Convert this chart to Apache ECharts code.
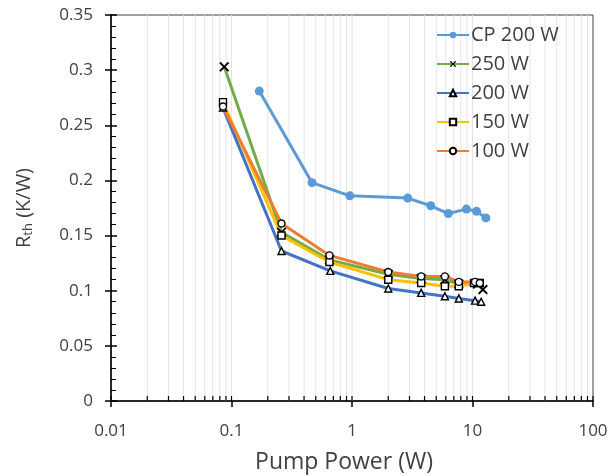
<!DOCTYPE html>
<html><head><meta charset="utf-8">
<script src="https://cdn.jsdelivr.net/npm/echarts@6/dist/echarts.min.js"></script>
<style>html,body{margin:0;padding:0;background:#fff}#c{width:609px;height:476px}</style>
</head><body><div id="c"></div>
<script>
const seriesNames = ['CP 200 W', '250 W', '200 W', '150 W', '100 W'];
const cp200 = [[0.17,0.281],[0.466,0.198],[0.96,0.186],[2.9,0.184],[4.5,0.177],[6.3,0.170],[8.9,0.174],[10.8,0.172],[12.9,0.166]];
const w250 = [[0.087,0.303],[0.26,0.153],[0.65,0.128],[2.0,0.115],[3.75,0.111],[5.9,0.110],[7.7,0.106],[11.0,0.106],[12.2,0.101]];
const w200 = [[0.085,0.266],[0.26,0.136],[0.66,0.118],[2.0,0.102],[3.75,0.098],[5.9,0.095],[7.7,0.093],[10.5,0.091],[11.8,0.090]];
const w150 = [[0.085,0.271],[0.26,0.150],[0.65,0.126],[2.0,0.110],[3.75,0.107],[5.9,0.104],[7.7,0.104],[10.3,0.107],[11.5,0.107]];
const w100 = [[0.085,0.267],[0.26,0.161],[0.65,0.132],[2.0,0.117],[3.75,0.113],[5.9,0.113],[7.7,0.108],[10.5,0.108],[11.5,0.107]];
const xMajorTicks = [0.01, 0.1, 1, 10, 100];
const xMinorTicks = [0.02,0.03,0.04,0.05,0.06,0.07,0.08,0.09,0.2,0.3,0.4,0.5,0.6,0.7,0.8,0.9,2,3,4,5,6,7,8,9,20,30,40,50,60,70,80,90];
const yTickLabels = ['0','0.05','0.1','0.15','0.2','0.25','0.3','0.35'];

const FONT = 'Open Sans';
const TXT = '#404040';
const yMax = 0.35;
const crossPath = 'path://M1.3,0L5,3.7L8.7,0L10,1.3L6.3,5L10,8.7L8.7,10L5,6.3L1.3,10L0,8.7L3.7,5L0,1.3Z';

const gridData = xMinorTicks.concat([0.1, 1, 10]).map(v => [v, 0]);
const tickData = xMinorTicks.concat(xMajorTicks).map(v => [v, 0]);

function lineSeries(name, data, color, symbol, size, itemStyle) {
  return {
    name: name, type: 'line', data: data, symbol: symbol, symbolSize: size,
    showSymbol: true, z: 3,
    lineStyle: { color: color, width: 3 },
    itemStyle: itemStyle,
    emphasis: { disabled: true }
  };
}
const hollow = { color: '#fff', borderColor: '#000', borderWidth: 1.4 };

const chart = echarts.init(document.getElementById('c'));
chart.setOption({
  animation: false,
  backgroundColor: '#fff',
  textStyle: { fontFamily: FONT },
  grid: { left: 111, right: 16, top: 15, bottom: 75, show: true, borderColor: '#404040', borderWidth: 1, containLabel: false, outerBoundsMode: 'none' },
  legend: {
    data: seriesNames, orient: 'vertical', left: 436, top: 24, padding: 0,
    itemWidth: 32, itemHeight: 8, itemGap: 7,
    textStyle: { fontFamily: FONT, fontSize: 20, color: TXT, lineHeight: 22, padding: [0,0,0,-3] }
  },
  xAxis: {
    type: 'log', logBase: 10, min: 0.01, max: 100,
    name: 'Pump Power (W)', nameLocation: 'middle', nameGap: 50,
    nameTextStyle: { fontFamily: FONT, fontSize: 23, color: TXT, padding: [0, 16, 0, 0] },
    axisLine: { show: true, lineStyle: { color: '#000', width: 1.5 } },
    axisTick: { show: true, inside: false, length: 6, lineStyle: { color: '#000', width: 1.5 } },
    axisLabel: { fontFamily: FONT, fontSize: 17, color: TXT, margin: 22,
      formatter: v => String(xMajorTicks.find(t => Math.abs(Math.log10(t) - Math.log10(v)) < 1e-6) ?? v) },
    splitLine: { show: false }
  },
  yAxis: [{
    type: 'value', min: 0, max: yMax, interval: 0.05,
    name: '{a|R}{b|th}{a| (K/W)}', nameLocation: 'middle', nameGap: 76, nameRotate: 90,
    nameTextStyle: { rich: { a: { fontFamily: FONT, fontSize: 20, color: TXT }, b: { fontFamily: FONT, fontSize: 13, color: TXT, verticalAlign: 'bottom', padding: [8,0,0,0] } } },
    axisLine: { show: true, lineStyle: { color: '#000', width: 1.5 } },
    axisTick: { show: true, inside: false, length: 6, lineStyle: { color: '#000', width: 1.5 } },
    axisLabel: { fontFamily: FONT, fontSize: 17, color: TXT, margin: 18,
      formatter: (v, i) => yTickLabels[i] },
    splitLine: { show: false }
  }, {
    type: 'value', min: 0, max: yMax, interval: 0.05, position: 'left',
    axisLine: { show: false },
    axisTick: { show: true, inside: true, length: 6, lineStyle: { color: '#000', width: 1.5 } },
    minorTick: { show: true, splitNumber: 5, length: 5, lineStyle: { color: '#000', width: 1 } },
    axisLabel: { show: false },
    splitLine: { show: false }
  }],
  series: [
    {
      type: 'custom', name: 'grid', data: gridData, z: 1, silent: true, clip: false,
      renderItem: function (params, api) {
        const b = api.coord([api.value(0), 0]);
        const t = api.coord([api.value(0), yMax]);
        return { type: 'line', shape: { x1: b[0], y1: b[1], x2: t[0], y2: t[1] }, style: { stroke: '#e4e4e4', lineWidth: 1 } };
      }
    },
    {
      type: 'custom', name: 'ticks', data: tickData, z: 5, silent: true, clip: false,
      renderItem: function (params, api) {
        const b = api.coord([api.value(0), 0]);
        return { type: 'line', shape: { x1: b[0], y1: b[1], x2: b[0], y2: b[1] - 5 }, style: { stroke: '#000', lineWidth: 1.2 } };
      }
    },
    lineSeries('CP 200 W', cp200, '#5B9BD5', 'circle', 9, { color: '#5B9BD5' }),
    lineSeries('250 W', w250, '#70AD47', crossPath, 10, { color: '#000' }),
    lineSeries('200 W', w200, '#4472C4', 'triangle', 7, hollow),
    lineSeries('150 W', w150, '#FFC000', 'rect', 7, hollow),
    lineSeries('100 W', w100, '#ED7D31', 'circle', 7, hollow)
  ]
});
</script></body></html>
